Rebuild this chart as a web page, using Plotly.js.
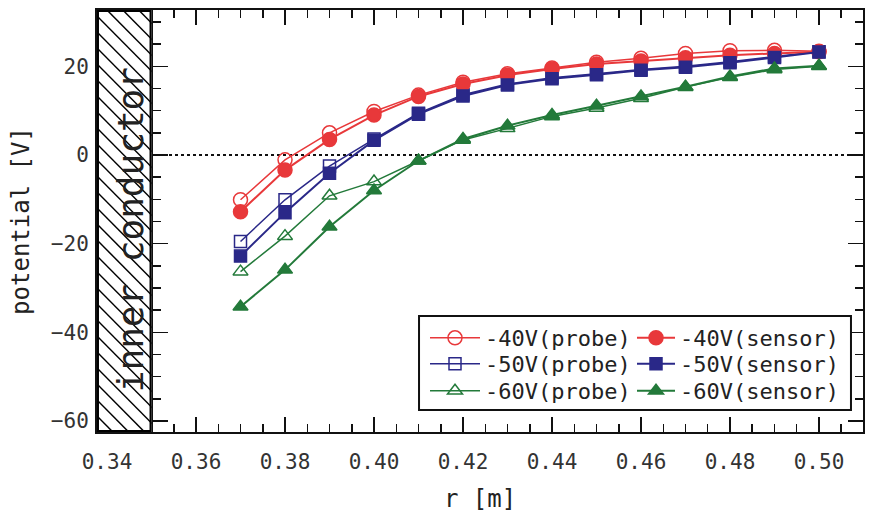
<!DOCTYPE html>
<html>
<head>
<meta charset="utf-8">
<script src="https://cdn.plot.ly/plotly-3.0.1.min.js"></script>
<style>html,body{margin:0;padding:0;background:#fff;}#chart{width:874px;height:513px;}</style>
</head>
<body>
<div id="chart"></div>
<script>
// ---- data ----
const r = [0.37, 0.38, 0.39, 0.40, 0.41, 0.42, 0.43, 0.44, 0.45, 0.46, 0.47, 0.48, 0.49, 0.50];
const probe40  = [-10.1, -1.1, 5.0, 9.8, 13.5, 16.4, 18.3, 19.6, 20.9, 21.8, 22.9, 23.5, 23.6, 23.4];
const sensor40 = [-12.8, -3.4, 3.5, 9.0, 13.2, 16.0, 18.0, 19.4, 20.5, 21.2, 21.9, 22.5, 22.9, 23.3];
const probe50  = [-19.5, -10.1, -2.5, 3.6, 9.4, 13.6, 16.0, 17.4, 18.3, 19.3, 20.0, 21.0, 22.2, 23.3];
const sensor50 = [-22.8, -13.0, -4.1, 3.3, 9.2, 13.3, 15.8, 17.2, 18.1, 19.1, 19.8, 20.8, 22.0, 23.2];
const probe60  = [-26.3, -18.3, -9.2, -6.0, -1.3, 3.4, 6.0, 8.7, 10.6, 12.8, 15.3, 17.5, 19.3, 20.0];
const sensor60 = [-34.2, -25.9, -16.2, -8.0, -1.3, 3.6, 6.6, 9.0, 11.1, 13.2, 15.4, 17.7, 19.5, 20.1];
const seriesNames = ['-40V(probe)', '-40V(sensor)', '-50V(probe)', '-50V(sensor)', '-60V(probe)', '-60V(sensor)'];
const xTitle = 'r [m]';
const yTitle = 'potential [V]';
const regionLabel = 'inner conductor';

const RED = '#e8383a', BLUE = '#2a2888', GREEN = '#237a3a';
const MONO = '"DejaVu Sans Mono", "Liberation Mono", monospace';

function tr(y, name, color, symbol, size, lw, leg, yax) {
  return {
    x: r, y: y, name: name, type: 'scatter', mode: 'lines+markers',
    xaxis: 'x', yaxis: yax,
    line: {color: color, width: lw},
    marker: {symbol: symbol, size: size, color: color, line: {color: color, width: 1.5}},
    legend: leg
  };
}
const data = [
  tr(probe40,  seriesNames[0], RED,   'circle-open',       14, 1.5, 'legend',  'y'),
  tr(probe50,  seriesNames[2], BLUE,  'square-open',       12, 1.5, 'legend2', 'y'),
  tr(probe60,  seriesNames[4], GREEN, 'triangle-up-open',  13, 1.5, 'legend3', 'y'),
  tr(sensor40, seriesNames[1], RED,   'circle',            14, 2,   'legend4', 'y2'),
  tr(sensor50, seriesNames[3], BLUE,  'square',            12, 2,   'legend5', 'y2'),
  tr(sensor60, seriesNames[5], GREEN, 'triangle-up',       13, 2,   'legend6', 'y2')
];

// hatched "inner conductor" region (decoration)
const W = 55, H = 422;
let lines = '';
for (let k = -H; k < W + 16; k += 16) {
  lines += '<line x1="' + k + '" y1="0" x2="' + (k + H) + '" y2="' + H + '" stroke="black" stroke-width="1.5"/>';
}
const svg = '<svg xmlns="http://www.w3.org/2000/svg" width="' + W + '" height="' + H + '" viewBox="0 0 ' + W + ' ' + H + '" preserveAspectRatio="none">' +
  '<rect x="0" y="0" width="' + W + '" height="' + H + '" fill="white"/>' + lines +
  '<rect x="1" y="1" width="' + (W - 2) + '" height="' + (H - 2) + '" fill="none" stroke="black" stroke-width="2"/></svg>';
const svgURI = 'data:image/svg+xml;charset=utf-8,' + encodeURIComponent(svg);

const xRange = [0.33775, 0.50989];
const yRange = [-62.46, 32.69];
const wallX = 0.35;
const wallPos = (wallX - xRange[0]) / (xRange[1] - xRange[0]);

const tickStyle = {ticks: 'inside', ticklen: 15, tickwidth: 1.5, tickcolor: '#111'};
const minorY = {dtick: 5, ticks: 'inside', ticklen: 8, tickwidth: 1.5, tickcolor: '#111'};

// legend placement: one legend per entry (two columns x three rows)
const legFont = {family: MONO, size: 22, color: '#222'};
const rowTop = [0.2725, 0.2109, 0.1469];
function leg(x, y, iw) {
  return {x: x, y: y, xanchor: 'left', yanchor: 'top', bgcolor: 'rgba(0,0,0,0)',
          borderwidth: 0, font: legFont, itemwidth: iw};
}
const colL = (425 - 97) / 766, colR = (632 - 97) / 766;

const layout = {
  width: 874, height: 513,
  margin: {l: 97, r: 11, t: 10, b: 81},
  paper_bgcolor: '#fff', plot_bgcolor: '#fff',
  font: {family: MONO, size: 21, color: '#222'},
  showlegend: true,
  xaxis: Object.assign({
    range: xRange, showgrid: false, zeroline: false,
    showline: true, linecolor: '#111', linewidth: 2, mirror: 'ticks',
    tick0: 0.34, dtick: 0.02, tickformat: '.2f',
    minor: {dtick: 0.005, ticks: 'inside', ticklen: 8, tickwidth: 1.5, tickcolor: '#111'},
    ticklabelstandoff: 10,
    tickfont: {family: MONO, size: 21, color: '#333'},
    title: {text: xTitle, font: {family: MONO, size: 24, color: '#222'}, standoff: 18}
  }, tickStyle),
  yaxis: Object.assign({
    range: yRange, showgrid: false, zeroline: false,
    showline: true, linecolor: '#111', linewidth: 2, mirror: 'ticks',
    tick0: 0, dtick: 20, minor: minorY,
    ticklabelstandoff: 2,
    tickfont: {family: MONO, size: 21, color: '#333'},
    title: {text: yTitle, font: {family: MONO, size: 24, color: '#222'}, standoff: 14}
  }, tickStyle),
  yaxis2: Object.assign({
    overlaying: 'y', matches: 'y', anchor: 'free', position: wallPos, side: 'left',
    range: yRange, showgrid: false, zeroline: false,
    showline: true, linecolor: '#111', linewidth: 2,
    tick0: 0, dtick: 20, showticklabels: false, minor: minorY
  }, tickStyle),
  legend:  leg(colL, rowTop[0], 50),
  legend2: leg(colL, rowTop[1], 50),
  legend3: leg(colL, rowTop[2], 50),
  legend4: leg(colR, rowTop[0], 38),
  legend5: leg(colR, rowTop[1], 38),
  legend6: leg(colR, rowTop[2], 38),
  shapes: [
    {type: 'line', xref: 'paper', yref: 'y', x0: 0, x1: 1, y0: 0, y1: 0,
     line: {color: '#111', width: 2, dash: 'dot'}, layer: 'below'},
    {type: 'rect', xref: 'paper', yref: 'paper', x0: 0.4204, x1: 0.9843, y0: 0.0521, y1: 0.2749,
     line: {color: '#111', width: 2}, fillcolor: '#fff', layer: 'above'}
  ],
  images: [
    {source: svgURI, xref: 'paper', yref: 'paper', x: 0, y: 1, sizex: wallPos, sizey: 1,
     sizing: 'stretch', xanchor: 'left', yanchor: 'top', layer: 'above'}
  ],
  annotations: [
    {text: regionLabel, xref: 'paper', yref: 'paper', x: wallPos / 2, y: 0.48, xshift: -16,
     textangle: -90, showarrow: false, font: {family: MONO, size: 36, color: '#222'},
     bgcolor: 'rgba(0,0,0,0)'}
  ]
};

Plotly.newPlot('chart', data, layout, {displayModeBar: false, staticPlot: true});
</script>
</body>
</html>
